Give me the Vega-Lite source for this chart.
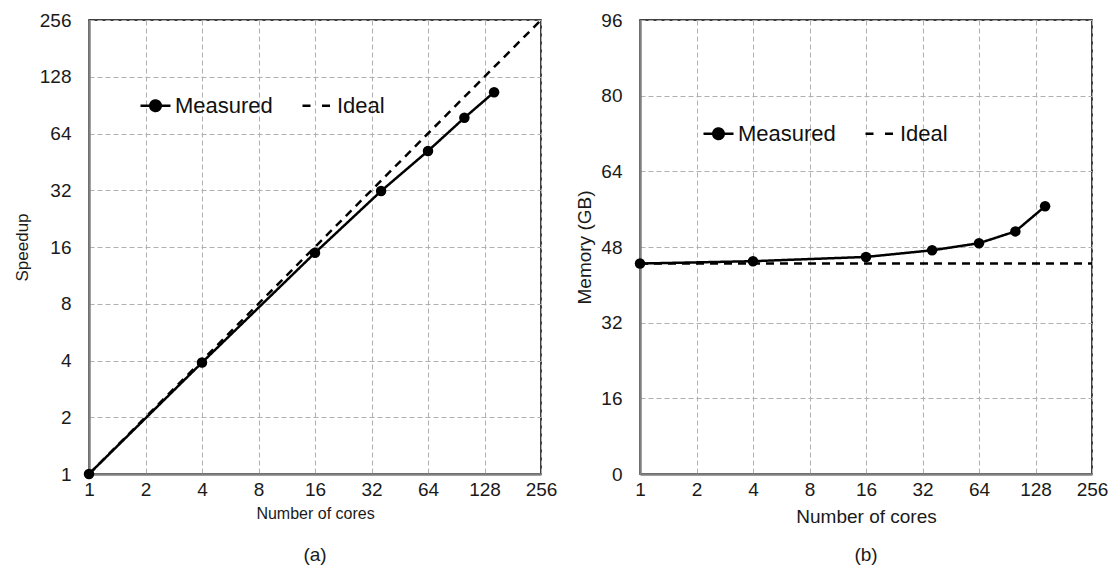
{
  "$schema": "https://vega.github.io/schema/vega-lite/v6.json",
  "background": "white",
  "padding": {"left": 12, "top": 10, "right": 5, "bottom": 5},
  "datasets": {
    "speedup": [
      {"cores": 1, "value": 1, "series": "Measured"},
      {"cores": 4, "value": 3.9, "series": "Measured"},
      {"cores": 16, "value": 14.9, "series": "Measured"},
      {"cores": 36, "value": 31.7, "series": "Measured"},
      {"cores": 64, "value": 51.7, "series": "Measured"},
      {"cores": 100, "value": 77.5, "series": "Measured"},
      {"cores": 144, "value": 106, "series": "Measured"},
      {"cores": 1, "value": 1, "series": "Ideal"},
      {"cores": 256, "value": 256, "series": "Ideal"}
    ],
    "memory": [
      {"cores": 1, "value": 44.5, "series": "Measured"},
      {"cores": 4, "value": 45.0, "series": "Measured"},
      {"cores": 16, "value": 45.9, "series": "Measured"},
      {"cores": 36, "value": 47.3, "series": "Measured"},
      {"cores": 64, "value": 48.8, "series": "Measured"},
      {"cores": 100, "value": 51.3, "series": "Measured"},
      {"cores": 144, "value": 56.6, "series": "Measured"},
      {"cores": 1, "value": 44.5, "series": "Ideal"},
      {"cores": 256, "value": 44.5, "series": "Ideal"}
    ]
  },
  "config": {
    "font": "Liberation Sans",
    "view": {"stroke": "black", "strokeWidth": 1.5},
    "axis": {
      "labelFont": "Liberation Sans",
      "titleFont": "Liberation Sans",
      "labelFontSize": 19,
      "labelColor": "#1a1a1a",
      "titleColor": "#1a1a1a",
      "titleFontWeight": "normal",
      "ticks": false,
      "grid": true,
      "gridDash": [5, 3],
      "gridColor": "#b0b0b0",
      "gridWidth": 1,
      "domainColor": "#808080",
      "domainWidth": 2.5
    },
    "legend": {
      "labelFont": "Liberation Sans",
      "labelFontSize": 22,
      "labelColor": "#111111",
      "symbolSize": 900,
      "symbolStrokeWidth": 2.5,
      "symbolStrokeColor": "black",
      "labelOffset": 3,
      "columnPadding": 24
    },
    "title": {"font": "Liberation Sans", "fontSize": 19, "fontWeight": "normal", "color": "#1a1a1a"}
  },
  "hconcat": [
    {
      "width": 452,
      "height": 454,
      "title": {"text": "(a)", "orient": "bottom", "offset": 25},
      "data": {"name": "speedup"},
      "layer": [
        {
          "mark": {"type": "line", "color": "black", "strokeWidth": 2.5},
          "encoding": {
            "x": {"field": "cores", "type": "quantitative", "scale": {"type": "log", "base": 2, "domain": [1, 256], "nice": false}, "axis": {"values": [1, 2, 4, 8, 16, 32, 64, 128, 256], "format": "d", "title": "Number of cores", "titleFontSize": 16, "labelPadding": 6, "titlePadding": 6, "labelFlush": false}},
            "y": {"field": "value", "type": "quantitative", "scale": {"type": "log", "base": 2, "domain": [1, 256], "nice": false}, "axis": {"values": [1, 2, 4, 8, 16, 32, 64, 128, 256], "format": "d", "title": "Speedup", "titleFontSize": 17, "labelPadding": 18, "titlePadding": 8, "labelFlush": false}},
            "strokeDash": {
              "field": "series", "type": "nominal",
              "scale": {"domain": ["Measured", "Ideal"], "range": [[1, 0], [8, 6]]},
              "legend": {
                "orient": "none", "legendX": 50, "legendY": 69, "direction": "horizontal", "title": null,
                "encode": {"symbols": {"update": {
                  "shape": {"signal": "datum.value === 'Measured' ? 'M-1,0L1,0M0.35,0A0.35,0.35,0,1,1,-0.35,0A0.35,0.35,0,1,1,0.35,0Z' : 'M-1,0L-0.3,0M0.3,0L1,0'"},
                  "fill": {"signal": "datum.value === 'Measured' ? 'black' : 'transparent'"},
                  "stroke": {"value": "black"},
                  "strokeDash": {"value": []}
                }}}
              }
            }
          }
        },
        {
          "transform": [{"filter": "datum.series === 'Measured'"}],
          "mark": {"type": "point", "filled": true, "color": "black", "size": 110, "opacity": 1},
          "encoding": {
            "x": {"field": "cores", "type": "quantitative"},
            "y": {"field": "value", "type": "quantitative"}
          }
        }
      ]
    },
    {
      "width": 452,
      "height": 454,
      "title": {"text": "(b)", "orient": "bottom", "offset": 20},
      "data": {"name": "memory"},
      "layer": [
        {
          "mark": {"type": "line", "color": "black", "strokeWidth": 2.5},
          "encoding": {
            "x": {"field": "cores", "type": "quantitative", "scale": {"type": "log", "base": 2, "domain": [1, 256], "nice": false}, "axis": {"values": [1, 2, 4, 8, 16, 32, 64, 128, 256], "format": "d", "title": "Number of cores", "titleFontSize": 19, "labelPadding": 6, "titlePadding": 8, "labelFlush": false}},
            "y": {"field": "value", "type": "quantitative", "scale": {"domain": [0, 96], "nice": false}, "axis": {"values": [0, 16, 32, 48, 64, 80, 96], "title": "Memory (GB)", "titleFontSize": 19, "labelPadding": 18, "titlePadding": 6, "labelFlush": false}},
            "strokeDash": {
              "field": "series", "type": "nominal",
              "scale": {"domain": ["Measured", "Ideal"], "range": [[1, 0], [8, 6]]},
              "legend": {
                "orient": "none", "legendX": 62, "legendY": 97, "direction": "horizontal", "title": null,
                "encode": {"symbols": {"update": {
                  "shape": {"signal": "datum.value === 'Measured' ? 'M-1,0L1,0M0.35,0A0.35,0.35,0,1,1,-0.35,0A0.35,0.35,0,1,1,0.35,0Z' : 'M-1,0L-0.3,0M0.3,0L1,0'"},
                  "fill": {"signal": "datum.value === 'Measured' ? 'black' : 'transparent'"},
                  "stroke": {"value": "black"},
                  "strokeDash": {"value": []}
                }}}
              }
            }
          }
        },
        {
          "transform": [{"filter": "datum.series === 'Measured'"}],
          "mark": {"type": "point", "filled": true, "color": "black", "size": 110, "opacity": 1},
          "encoding": {
            "x": {"field": "cores", "type": "quantitative"},
            "y": {"field": "value", "type": "quantitative"}
          }
        }
      ]
    }
  ],
  "spacing": 99,
  "bounds": "flush",
  "resolve": {"legend": {"strokeDash": "independent"}}
}
